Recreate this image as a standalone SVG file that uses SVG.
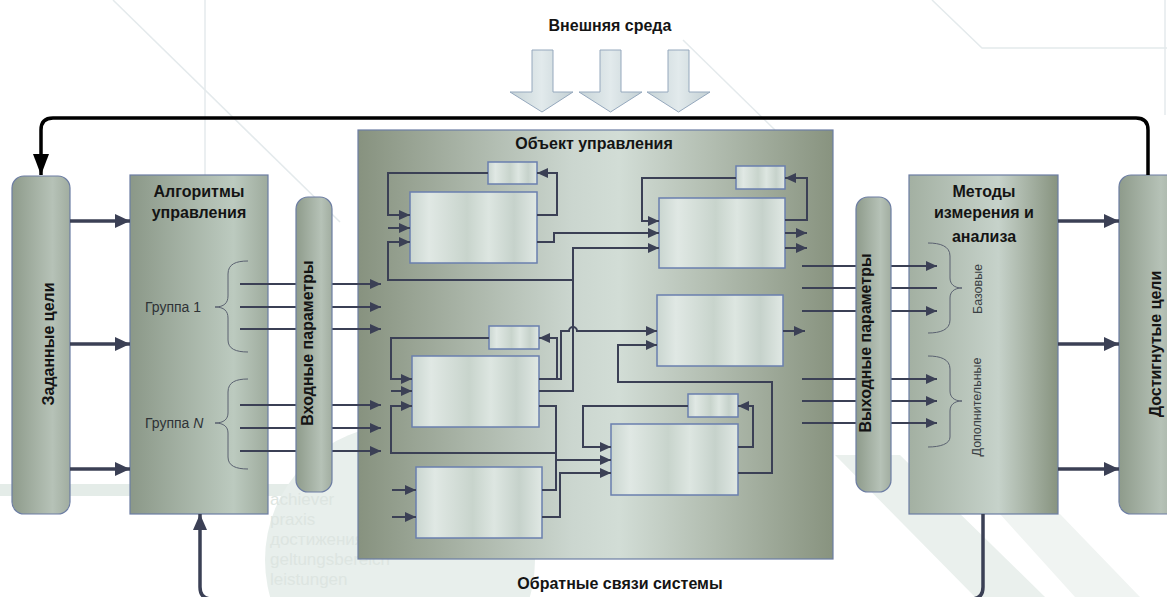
<svg xmlns="http://www.w3.org/2000/svg" width="1167" height="597" viewBox="0 0 1167 597">
<defs>
<style>
.t{font-family:"Liberation Sans",Arial,sans-serif;font-weight:bold;font-size:16px;fill:#141414;text-anchor:middle}
.g{font-family:"Liberation Sans",Arial,sans-serif;font-size:14px;fill:#2e3236}
.s{font-family:"Liberation Sans",Arial,sans-serif;font-size:12.5px;fill:#3a3f44;text-anchor:middle}
.wm{font-family:"Liberation Sans",Arial,sans-serif;font-size:17px;fill:#dde5e1}
.bg{fill:none;stroke:#e4eaec;stroke-width:1.5}
.node{stroke:#6c7da3;stroke-width:1.2}
.blk{fill:url(#gBlk);stroke:#6a7fae;stroke-width:1.5}
.c{fill:none;stroke:#3b4055;stroke-width:2}
.ca{fill:none;stroke:#3b4055;stroke-width:2;marker-end:url(#aThin)}
.thick{fill:none;stroke:#3b4055;stroke-width:3.5;marker-end:url(#aThick)}
.brace{fill:none;stroke:#5a6170;stroke-width:1}
.bigarrow{fill:url(#gArrow);stroke:#95a8bd;stroke-width:1}
</style>
<linearGradient id="gPill" x1="0" y1="0" x2="1" y2="0">
<stop offset="0" stop-color="#8e9b8b"/><stop offset="0.7" stop-color="#b6c2b7"/><stop offset="1" stop-color="#a1ada0"/>
</linearGradient>
<linearGradient id="gAlg" x1="0" y1="0" x2="1" y2="0">
<stop offset="0" stop-color="#8b9888"/><stop offset="0.75" stop-color="#bccabf"/><stop offset="1" stop-color="#9eab9d"/>
</linearGradient>
<linearGradient id="gMet" x1="0" y1="0" x2="1" y2="0">
<stop offset="0" stop-color="#a3b0a2"/><stop offset="0.6" stop-color="#c6d2ca"/><stop offset="1" stop-color="#87937f"/>
</linearGradient>
<linearGradient id="gObj" x1="0" y1="0" x2="1" y2="0">
<stop offset="0" stop-color="#87927f"/><stop offset="0.45" stop-color="#cbd6cf"/><stop offset="0.55" stop-color="#d2ddd6"/><stop offset="1" stop-color="#88937f"/>
</linearGradient>
<linearGradient id="gBlk" x1="0" y1="0" x2="1" y2="0">
<stop offset="0" stop-color="#cad6d0"/><stop offset="0.15" stop-color="#e0e8e4"/><stop offset="0.45" stop-color="#c8d4cc"/><stop offset="0.62" stop-color="#dde6e1"/><stop offset="0.82" stop-color="#c6d2cb"/><stop offset="1" stop-color="#e0e8e4"/>
</linearGradient>
<linearGradient id="gArrow" x1="0" y1="0" x2="1" y2="0">
<stop offset="0" stop-color="#c7d4d7"/><stop offset="0.5" stop-color="#e2eaec"/><stop offset="1" stop-color="#c3d0d4"/>
</linearGradient>
<marker id="aThin" markerUnits="userSpaceOnUse" markerWidth="11" markerHeight="10" refX="11" refY="5" orient="auto">
<path d="M0,0 L11,5 L0,10 z" fill="#3b4055"/>
</marker>
<marker id="aThick" markerUnits="userSpaceOnUse" markerWidth="15" markerHeight="14" refX="15" refY="7" orient="auto">
<path d="M0,0 L15,7 L0,14 z" fill="#3b4055"/>
</marker>
<marker id="aBlack" markerUnits="userSpaceOnUse" markerWidth="21" markerHeight="16" refX="21" refY="8" orient="auto">
<path d="M0,0 L21,8 L0,16 z" fill="#000"/>
</marker>
<marker id="aUp" markerUnits="userSpaceOnUse" markerWidth="16" markerHeight="14" refX="16" refY="7" orient="auto">
<path d="M0,0 L16,7 L0,14 z" fill="#3b4055"/>
</marker>
</defs>

<g id="background">
<rect x="0" y="0" width="1167" height="597" fill="#ffffff"/>
<line class="bg" x1="113" y1="0" x2="340" y2="222"/>
<line class="bg" x1="205" y1="0" x2="205" y2="175"/>
<polyline class="bg" points="932,0 982,48 1167,48"/>
<line class="bg" x1="1165" y1="0" x2="1165" y2="115"/>
<line class="bg" x1="683" y1="40" x2="775" y2="130"/>
<rect x="0" y="484" width="300" height="12" fill="#e4ece8"/>
<circle cx="400" cy="560" r="135" fill="#e8efec"/>
<polygon points="835,455 900,455 1045,597 975,597" fill="#eaf0ed"/>
<polygon points="1000,514 1060,514 1140,597 1075,597" fill="#f0f4f2"/>
<text class="wm" x="270" y="505">achiever</text>
<text class="wm" x="270" y="525">praxis</text>
<text class="wm" x="270" y="545">достижения</text>
<text class="wm" x="270" y="565">geltungsbereich</text>
<text class="wm" x="270" y="585">leistungen</text>
</g>

<g id="env">
<text class="t" x="610" y="31">Внешняя среда</text>
<path class="bigarrow" d="M532,50 H553 V92 H573 L542,112 L510,92 H532 Z"/>
<path class="bigarrow" d="M600,50 H621 V92 H642 L610.5,112 L579,92 H600 Z"/>
<path class="bigarrow" d="M668,50 H689 V92 H710 L678.5,112 L647,92 H668 Z"/>
</g>

<g id="goals-set">
<rect class="node" x="12" y="176" width="58" height="338" rx="12" fill="url(#gPill)"/>
<text class="t" transform="translate(54,344) rotate(-90)">Заданные цели</text>
</g>

<g id="algorithms">
<rect class="node" x="130" y="175" width="138" height="339" fill="url(#gAlg)"/>
<text class="t" x="199" y="197">Алгоритмы</text>
<text class="t" x="199" y="218">управления</text>
<text class="g" x="145" y="312">Группа 1</text>
<text class="g" x="145" y="428">Группа <tspan font-style="italic">N</tspan></text>
<path class="brace" d="M248,261 C236,261 228,264 228,274 V296 C228,303 224,307 215,307 C224,307 228,311 228,318 V340 C228,349 236,352 248,352"/>
<path class="brace" d="M248,379 C236,379 228,382 228,392 V413 C228,419 224,423 215,423 C224,423 228,427 228,433 V457 C228,466 236,469 248,469"/>
</g>

<g id="methods">
<rect class="node" x="909" y="175" width="149" height="339" fill="url(#gMet)"/>
<text class="t" x="984" y="197">Методы</text>
<text class="t" x="984" y="218">измерения и</text>
<text class="t" x="984" y="242">анализа</text>
<path class="brace" d="M928,243 C940,243 950,246 950,256 V278 C950,284 954,288 962,288 C954,288 950,292 950,298 V320 C950,330 940,333 928,333"/>
<path class="brace" d="M928,356 C940,356 950,359 950,369 V391 C950,397 954,401 962,401 C954,401 950,405 950,411 V437 C950,444 940,447 928,447"/>
<text class="s" transform="translate(982,289) rotate(-90)">Базовые</text>
<text class="s" transform="translate(981,407) rotate(-90)">Дополнительные</text>
</g>

<g id="goals-reached">
<rect class="node" x="1119" y="175" width="60" height="339" rx="12" fill="url(#gPill)"/>
<text class="t" transform="translate(1161,344) rotate(-90)">Достигнутые цели</text>
</g>

<g id="object">
<rect class="node" x="358" y="130" width="475" height="429" fill="url(#gObj)"/>
<text class="t" x="594" y="149">Объект управления</text>
<g id="blockA"><rect class="blk" x="488" y="162" width="49" height="22"/></g>
<g id="blockB"><rect class="blk" x="410" y="192" width="127" height="71"/></g>
<g id="blockC1"><rect class="blk" x="736" y="166" width="49" height="23"/></g>
<g id="blockC"><rect class="blk" x="659" y="198" width="126" height="70"/></g>
<g id="blockE"><rect class="blk" x="657" y="295" width="126" height="71"/></g>
<g id="blockD1"><rect class="blk" x="489" y="326" width="50" height="23"/></g>
<g id="blockD"><rect class="blk" x="412" y="356" width="127" height="71"/></g>
<g id="blockF1"><rect class="blk" x="688" y="394" width="50" height="23"/></g>
<g id="blockF"><rect class="blk" x="611" y="424" width="127" height="71"/></g>
<g id="blockG"><rect class="blk" x="416" y="467" width="126" height="71"/></g>
</g>

<g id="connectors">
<path d="M1148,175 V130 Q1148,118 1136,118 H53 Q41,118 41,130 V175" fill="none" stroke="#000" stroke-width="3.5" marker-end="url(#aBlack)"/>
<path d="M983,514 V587 Q983,599 971,599 H212 Q200,599 200,587 V514" fill="none" stroke="#3b4055" stroke-width="3.5" marker-end="url(#aUp)"/>
<path class="thick" d="M70,221 H130"/>
<path class="thick" d="M70,344 H130"/>
<path class="thick" d="M70,469 H130"/>
<path class="thick" d="M1058,221 H1119"/>
<path class="thick" d="M1058,344 H1119"/>
<path class="thick" d="M1058,469 H1119"/>
<path class="ca" d="M240,284 H381"/>
<path class="ca" d="M240,307 H381"/>
<path class="ca" d="M240,329 H381"/>
<path class="ca" d="M240,405 H381"/>
<path class="ca" d="M240,428 H381"/>
<path class="ca" d="M240,451 H381"/>
<path class="ca" d="M802,266 H937"/>
<path class="c" d="M802,288 H937"/>
<path class="ca" d="M802,311 H937"/>
<path class="ca" d="M802,379 H937"/>
<path class="ca" d="M802,401 H937"/>
<path class="ca" d="M802,423 H937"/>
<path class="ca" d="M537,215 H557 V173 H537"/>
<path class="ca" d="M488,173 H388 V215 H410"/>
<path class="ca" d="M388,228 H410"/>
<path class="ca" d="M573,280 H388 V242 H410"/>
<path class="ca" d="M537,242 H554 V233 H659"/>
<path class="ca" d="M785,220 H807 V178 H785"/>
<path class="ca" d="M736,178 H642 V221 H659"/>
<path class="ca" d="M539,391 H573 V248 H659"/>
<path class="ca" d="M785,233 H807"/>
<path class="ca" d="M785,248 H807"/>
<path class="ca" d="M557,379 H561 V331 H569 A4,4 0 0 1 577,331 H657"/>
<path class="ca" d="M738,473 H772 V382 H618 V345 H657"/>
<path class="ca" d="M783,331 H805"/>
<path class="ca" d="M539,379 H557 V338 H539"/>
<path class="ca" d="M489,338 H391 V379 H412"/>
<path class="ca" d="M391,391 H412"/>
<path class="ca" d="M556,453 H391 V406 H412"/>
<path class="ca" d="M539,406 H556 V460 H611"/>
<path class="ca" d="M392,490 H416"/>
<path class="ca" d="M392,517 H416"/>
<path class="c" d="M542,490 H556 V460"/>
<path class="ca" d="M542,517 H560 V473 H611"/>
<path class="ca" d="M738,447 H753 V406 H738"/>
<path class="ca" d="M688,406 H583 V447 H611"/>
</g>

<g id="inputs">
<rect class="node" x="296" y="197" width="36" height="295" rx="12" fill="url(#gPill)"/>
<text class="t" transform="translate(313,343) rotate(-90)">Входные параметры</text>
</g>

<g id="outputs">
<rect class="node" x="856" y="197" width="35" height="295" rx="12" fill="url(#gPill)"/>
<text class="t" transform="translate(871,343) rotate(-90)">Выходные параметры</text>
</g>

<g id="feedback-label">
<text class="t" x="620" y="589">Обратные связи системы</text>
</g>
</svg>
